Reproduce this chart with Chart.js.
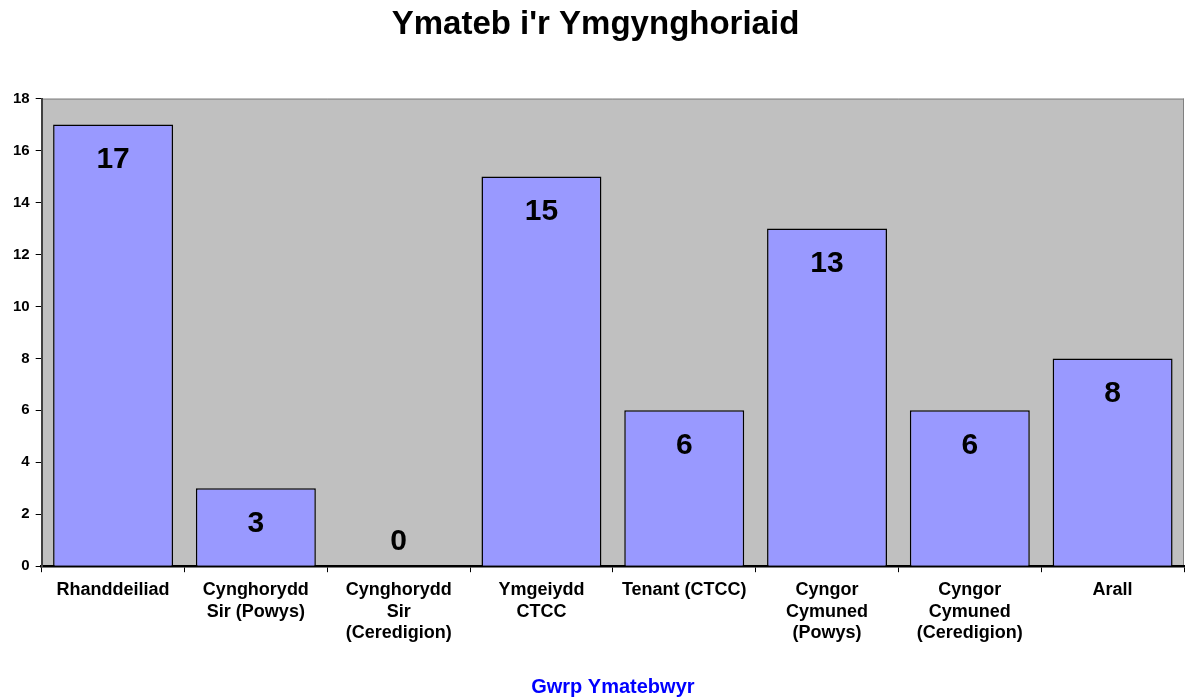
<!DOCTYPE html>
<html lang="cy">
<head>
  <meta charset="UTF-8" />
  <title>Ymateb i'r Ymgynghoriaid</title>
  <script src="https://cdn.jsdelivr.net/npm/chart.js"></script>
  <style>
    body { margin: 0; background: #fff; }
    #wrap { width: 1192px; height: 699px; }
  </style>
</head>
<body>
  <div id="wrap"><canvas id="chart"></canvas></div>

  <script>
    const categories = [
      "Rhanddeiliad",
      ["Cynghorydd", "Sir (Powys)"],
      ["Cynghorydd", "Sir", "(Ceredigion)"],
      ["Ymgeiydd", "CTCC"],
      "Tenant (CTCC)",
      ["Cyngor", "Cymuned", "(Powys)"],
      ["Cyngor", "Cymuned", "(Ceredigion)"],
      "Arall"
    ];
    const responses = [17, 3, 0, 15, 6, 13, 6, 8];

    const font = "'Liberation Sans', Arial, sans-serif";

    // grey plot area like the original spreadsheet chart
    const plotBg = {
      id: 'plotBg',
      beforeDraw(chart) {
        const { ctx, chartArea: a } = chart;
        ctx.save();
        ctx.fillStyle = '#c0c0c0';
        ctx.fillRect(a.left, a.top, a.right - a.left, a.bottom - a.top);
        ctx.strokeStyle = '#808080';
        ctx.lineWidth = 1;
        ctx.beginPath();
        ctx.moveTo(a.left, a.top + 0.5);
        ctx.lineTo(a.right, a.top + 0.5);
        ctx.moveTo(a.right - 0.5, a.top);
        ctx.lineTo(a.right - 0.5, a.bottom);
        ctx.stroke();
        ctx.restore();
      }
    };

    // value labels inside the bars
    const valueLabels = {
      id: 'valueLabels',
      afterDatasetsDraw(chart) {
        const { ctx } = chart;
        const meta = chart.getDatasetMeta(0);
        ctx.save();
        ctx.fillStyle = '#000';
        ctx.font = 'bold 30px ' + font;
        ctx.textAlign = 'center';
        ctx.textBaseline = 'middle';
        meta.data.forEach((bar, i) => {
          const v = responses[i];
          const y = v === 0 ? bar.y - 24 : bar.y + 35;
          ctx.fillText(String(v), bar.x, y);
        });
        ctx.restore();
      }
    };

    new Chart(document.getElementById('chart'), {
      type: 'bar',
      data: {
        labels: categories,
        datasets: [{
          data: responses,
          backgroundColor: '#9999ff',
          borderColor: '#000',
          borderWidth: 1.5,
          categoryPercentage: 0.84,
          barPercentage: 1
        }]
      },
      options: {
        responsive: true,
        maintainAspectRatio: false,
        animation: false,
        layout: { padding: { left: 7, right: 8, top: 0, bottom: 0 } },
        plugins: {
          legend: { display: false },
          tooltip: { enabled: false },
          title: {
            display: true,
            text: "Ymateb i'r Ymgynghoriaid",
            color: '#000',
            font: { family: font, size: 33, weight: 'bold' },
            padding: { top: 5, bottom: 54 }
          }
        },
        scales: {
          x: {
            grid: { drawOnChartArea: false, tickLength: 6, color: '#000' },
            border: { color: '#000', width: 2.5 },
            ticks: {
              color: '#000',
              font: { family: font, size: 18, weight: 'bold', lineHeight: 1.2 },
              maxRotation: 0,
              autoSkip: false,
              padding: 7
            },
            title: {
              display: true,
              text: 'Gwrp Ymatebwyr',
              color: '#0000ff',
              font: { family: font, size: 20, weight: 'bold' },
              padding: { top: 24, bottom: 0 }
            }
          },
          y: {
            min: 0,
            max: 18,
            ticks: {
              stepSize: 2,
              color: '#000',
              font: { family: font, size: 15, weight: 'bold' },
              padding: 6
            },
            grid: { drawOnChartArea: false, tickLength: 6, color: '#000' },
            border: { color: '#404040', width: 2 }
          }
        }
      },
      plugins: [plotBg, valueLabels]
    });
  </script>
</body>
</html>
